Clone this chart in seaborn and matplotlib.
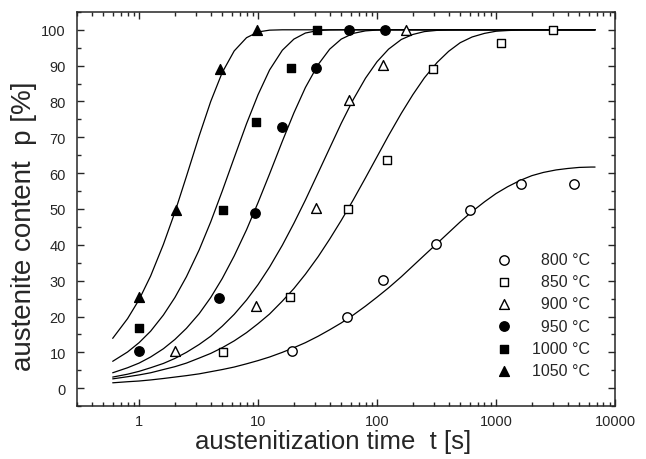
import numpy as np
import pandas as pd
import matplotlib
matplotlib.use('Agg')
import matplotlib.pyplot as plt
import matplotlib.ticker as mticker
import seaborn as sns

# measured points (t in s, p in %)
t_800 = [19.4, 56, 112, 313, 600, 1630, 4500]
p_800 = [10.5, 20.0, 30.3, 40.3, 49.7, 57.0, 57.0]
t_850 = [5.05, 18.7, 57, 121, 294, 1110, 3020]
p_850 = [10.0, 25.4, 50.0, 63.6, 89.0, 96.4, 100.0]
t_900 = [2.0, 9.7, 30.5, 58, 112, 175]
p_900 = [10.3, 22.8, 50.2, 80.3, 90.3, 100.0]
t_950 = [1.0, 4.7, 9.36, 16, 30.5, 58, 116]
p_950 = [10.3, 25.2, 49.0, 73.0, 89.4, 100.0, 100.0]
t_1000 = [1.0, 5.1, 9.7, 19, 31.5]
p_1000 = [16.9, 49.7, 74.2, 89.4, 100.0]
t_1050 = [1.0, 2.04, 4.8, 9.8]
p_1050 = [25.5, 49.7, 89.0, 100.0]

# fitted curves, values
ct_1050 = [0.6, 0.8, 1, 1.25, 1.6, 2, 2.5, 3.2, 4, 5, 6.3, 8, 10, 12.5, 16, 6800]
cp_1050 = [13.9, 19.4, 24.7, 31.3, 40.1, 49.1, 59.1, 70.4, 80.0, 88.1, 94.1, 97.8, 99.4, 99.9, 100, 100]
ct_1000 = [0.6, 0.8, 1, 1.25, 1.6, 2, 2.5, 3.2, 4, 5, 6.3, 8, 10, 12.5, 16, 20, 25, 32, 40, 50, 6800]
cp_1000 = [7.5, 10.1, 12.7, 15.9, 20.4, 25.3, 31.1, 38.6, 46.4, 55.0, 64.3, 73.8, 81.9, 88.8, 94.3,
           97.4, 99.1, 99.8, 99.96, 100, 100]
ct_950 = [0.6, 0.8, 1, 1.25, 1.6, 2, 2.5, 3.2, 4, 5, 6.3, 8, 10, 12.5, 16, 20, 25, 32, 40, 50,
          63, 80, 100, 125, 6800]
cp_950 = [4.3, 5.7, 7.0, 8.7, 11.0, 13.6, 16.7, 20.8, 25.3, 30.6, 36.9, 44.2, 51.8, 59.8, 68.9,
          76.8, 83.9, 90.3, 94.6, 97.4, 99.0, 99.7, 99.93, 100, 100]
ct_900 = [0.6, 0.8, 1, 1.25, 1.6, 2, 2.5, 3.2, 4, 5, 6.3, 8, 10, 12.5, 16, 20, 25, 32, 40, 50,
          63, 80, 100, 125, 160, 200, 250, 320, 400, 500, 6800]
cp_900 = [3.1, 3.9, 4.7, 5.7, 6.9, 8.3, 10.0, 12.2, 14.5, 17.3, 20.6, 24.6, 28.9, 33.8, 39.9,
          46.0, 52.5, 60.1, 67.0, 73.9, 80.5, 86.5, 91.1, 94.6, 97.3, 98.7, 99.5, 99.85, 99.96, 100, 100]
ct_850 = [0.6, 0.8, 1, 1.25, 1.6, 2, 2.5, 3.2, 4, 5, 6.3, 8, 10, 12.5, 16, 20, 25, 32, 40, 50,
          63, 80, 100, 125, 160, 200, 250, 320, 400, 500, 630, 800, 1000, 1250, 1600, 2000, 6800]
cp_850 = [2.6, 3.2, 3.7, 4.3, 5.2, 6.0, 7.0, 8.4, 9.7, 11.3, 13.2, 15.5, 18.0, 20.7, 24.3,
          27.8, 31.8, 36.7, 41.6, 46.8, 52.5, 58.7, 64.6, 70.5, 76.7, 81.9, 86.6, 90.9, 94.0,
          96.4, 98.0, 99.0, 99.6, 99.8, 99.95, 100, 100]
ct_800 = [0.6, 0.8, 1, 1.25, 1.6, 2, 2.5, 3.2, 4, 5, 6.3, 8, 10, 12.5, 16, 20, 25, 32, 40, 50,
          63, 80, 100, 125, 160, 200, 250, 320, 400, 500, 630, 800, 1000, 1250, 1600, 2000,
          2500, 3200, 4000, 5000, 6300, 6800]
cp_800 = [1.5, 1.8, 2.0, 2.3, 2.7, 3.1, 3.5, 4.0, 4.6, 5.2, 5.9, 6.8, 7.7, 8.7, 10.0, 11.3,
          12.7, 14.5, 16.3, 18.2, 20.4, 22.9, 25.4, 28.0, 31.1, 34.1, 37.1, 40.4, 43.4, 46.4,
          49.3, 52.0, 54.3, 56.2, 58.0, 59.3, 60.2, 60.9, 61.3, 61.6, 61.7, 61.7]

labels = ['800 °C', '850 °C', '900 °C', '950 °C', '1000 °C', '1050 °C']
markers = ['o', 's', '^', 'o', 's', '^']
faces = ['white', 'white', 'white', 'black', 'black', 'black']
msize = {'o': 46, 's': 34, '^': 50}

points = [(t_800, p_800), (t_850, p_850), (t_900, p_900),
          (t_950, p_950), (t_1000, p_1000), (t_1050, p_1050)]
curves = [(ct_800, cp_800), (ct_850, cp_850), (ct_900, cp_900),
          (ct_950, cp_950), (ct_1000, cp_1000), (ct_1050, cp_1050)]

sns.set_style('ticks')
plt.rcParams['font.family'] = ['Liberation Sans', 'DejaVu Sans']

fig = plt.figure(figsize=(6.46, 4.6), dpi=100)
ax = fig.add_axes([0.119, 0.115, 0.833, 0.857])

for (ct, cp) in curves:
    sns.lineplot(x=ct, y=cp, ax=ax, color='black', lw=0.9, sort=False, zorder=1)

for (t, p), lab, m, fc in zip(points, labels, markers, faces):
    # pad 3-digit temperatures with a figure space so the legend text lines up on the right
    lab = lab if len(lab) == 7 else '\u2007' + lab
    sns.scatterplot(x=t, y=p, ax=ax, marker=m, color=fc, edgecolor='black',
                    linewidth=1.0, s=msize[m], label=lab, zorder=3)

ax.set_xscale('log')
ax.set_xlim(0.3, 10000)
ax.set_ylim(-5, 105)
ax.set_yticks(np.arange(0, 101, 10))
ax.yaxis.set_minor_locator(mticker.MultipleLocator(5))
ax.xaxis.set_major_formatter(mticker.FuncFormatter(lambda v, pos: f'{v:g}'))
ax.tick_params(which='both', direction='in', top=True, right=True, labelsize=10.5, width=1)
ax.tick_params(which='major', length=5, pad=6)
ax.tick_params(axis='y', which='major', pad=8)
ax.tick_params(which='minor', length=3)
for s in ax.spines.values():
    s.set_linewidth(1.1)

ax.set_xlabel('austenitization time  t [s]', fontsize=18.5)
ax.set_ylabel('austenite content  p [%]', fontsize=20)
ax.xaxis.set_label_coords(0.477, -0.058)
ax.yaxis.set_label_coords(-0.075, 0.458)

leg = ax.legend(loc='lower right', bbox_to_anchor=(0.965, 0.055), frameon=False,
                fontsize=11.5, handlelength=1.0, handletextpad=1.2, labelspacing=0.45,
                borderaxespad=0)

fig.savefig('out.png', dpi=100)
